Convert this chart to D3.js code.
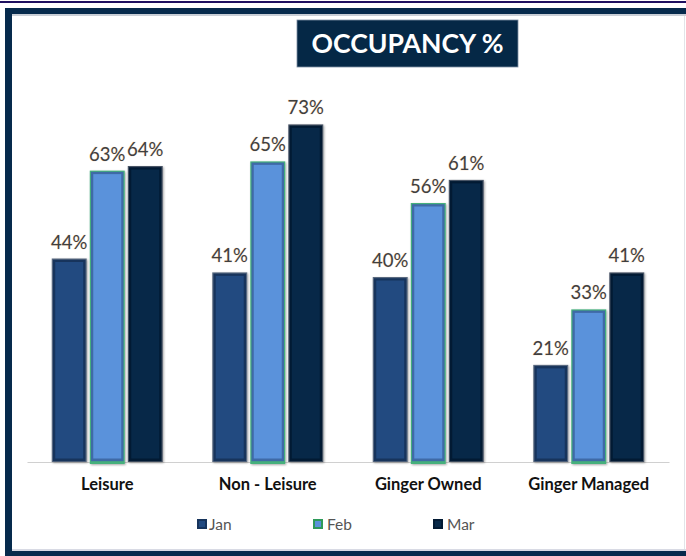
<!DOCTYPE html>
<html>
<head>
<meta charset="utf-8">
<script src="https://cdn.jsdelivr.net/npm/d3@7"></script>
<style>
  html, body { margin: 0; padding: 0; background: #ffffff; }
  svg { display: block; }
</style>
</head>
<body>
<svg id="chart" width="686" height="556"></svg>
<script>
// ---- data ----
const categories = ["Leisure", "Non - Leisure", "Ginger Owned", "Ginger Managed"];
const months = ["Jan", "Feb", "Mar"];
const janValues = [44, 41, 40, 21];
const febValues = [63, 65, 56, 33];
const marValues = [64, 73, 61, 41];
const chartTitle = "OCCUPANCY %";

const seriesValues = { Jan: janValues, Feb: febValues, Mar: marValues };

const W = 686, H = 556;
const svg = d3.select("#chart");

const fills = { Jan: "#224a80", Feb: "#5a92db", Mar: "#072848" };
const edges = { Jan: "#17345c", Feb: "#3f6aa6", Mar: "#021a33" };
const outer = { Jan: "#5a6a80", Feb: "#45b07c", Mar: "#4a5566" };

// defs: shadow
const defs = svg.append("defs");
const f = defs.append("filter").attr("id", "shadow").attr("x", "-20%").attr("y", "-10%").attr("width", "140%").attr("height", "120%");
f.append("feDropShadow").attr("dx", 1).attr("dy", 1).attr("stdDeviation", 1.2).attr("flood-color", "#000").attr("flood-opacity", 0.35);

// ---- frame ----
svg.append("rect").attr("x", 0).attr("y", 0).attr("width", W).attr("height", H).attr("fill", "#ffffff");
svg.append("rect").attr("x", 0).attr("y", 1).attr("width", W).attr("height", 2).attr("fill", "#1e1060");
svg.append("rect").attr("x", 5).attr("y", 8).attr("width", W - 5).attr("height", 6).attr("fill", "#062a4c");
svg.append("rect").attr("x", 5).attr("y", 14).attr("width", W - 5).attr("height", 2).attr("fill", "#c9ced6");
svg.append("rect").attr("x", 5).attr("y", 8).attr("width", 7).attr("height", H - 8).attr("fill", "#062a4c");
svg.append("rect").attr("x", 5).attr("y", 551).attr("width", W - 5).attr("height", 5).attr("fill", "#062a4c");
svg.append("rect").attr("x", 12).attr("y", 549).attr("width", W - 12).attr("height", 2).attr("fill", "#d8dae4");
svg.append("rect").attr("x", 684).attr("y", 16).attr("width", 1).attr("height", 533).attr("fill", "#e2e4e8");

// ---- title ----
svg.append("rect").attr("x", 297).attr("y", 20).attr("width", 221).attr("height", 47)
  .attr("fill", "#052846").attr("stroke", "#7d8ea3").attr("stroke-width", 0.8);
svg.append("text").attr("x", 407.5).attr("y", 53).attr("text-anchor", "middle")
  .attr("font-family", "Lato, 'Open Sans', sans-serif").attr("font-weight", 700)
  .attr("font-size", 26).attr("fill", "#ffffff")
  .attr("textLength", 192).attr("lengthAdjust", "spacingAndGlyphs")
  .text(chartTitle);

// ---- scales ----
const x0 = d3.scaleBand().domain(categories).range([27, 669]).paddingInner(0).paddingOuter(0);
const x1 = d3.scaleBand().domain(months).range([0, 111]).paddingInner(0.08).paddingOuter(0);
const groupOffset = (x0.bandwidth() - 111) / 2;
const y = d3.scaleLinear().domain([0, 80]).range([462, 92]);

// baseline axis
const axis = svg.append("g").attr("transform", `translate(0,${y(0)})`)
  .call(d3.axisBottom(x0).tickSize(0).tickPadding(16));
axis.select(".domain").attr("stroke", "#d0d0d0").attr("stroke-width", 1.2);
axis.selectAll("text")
  .attr("font-family", "Lato, 'Open Sans', sans-serif")
  .attr("font-weight", 700).attr("font-size", 16.5).attr("fill", "#111111");

// ---- bars ----
const groups = svg.append("g").selectAll("g").data(categories).join("g")
  .attr("transform", d => `translate(${x0(d) + groupOffset},0)`);

const barData = (c, i) => months.map(m => ({ m, v: seriesValues[m][i], c }));

groups.each(function(c, i) {
  const g = d3.select(this);
  const bars = barData(c, i);
  const bw = x1.bandwidth();
  g.selectAll("rect.outer").data(bars).join("rect").attr("class", "outer")
    .attr("x", d => x1(d.m)).attr("y", d => y(d.v))
    .attr("width", bw).attr("height", d => y(0) - y(d.v) + (d.m === "Feb" ? 2 : 0))
    .attr("fill", d => outer[d.m]).attr("filter", "url(#shadow)");
  g.selectAll("rect.edge").data(bars).join("rect").attr("class", "edge")
    .attr("x", d => x1(d.m) + 1.2).attr("y", d => y(d.v) + 1.2)
    .attr("width", bw - 2.4)
    .attr("height", d => y(0) - y(d.v) - 2)
    .attr("fill", d => edges[d.m]);
  g.selectAll("rect.face").data(bars).join("rect").attr("class", "face")
    .attr("x", d => x1(d.m) + 3.5).attr("y", d => y(d.v) + 3.5)
    .attr("width", bw - 7)
    .attr("height", d => y(0) - y(d.v) - 7)
    .attr("fill", d => fills[d.m]);
  g.selectAll("text.val").data(bars).join("text").attr("class", "val")
    .attr("x", d => x1(d.m) + bw / 2).attr("y", d => y(d.v) - 10)
    .attr("text-anchor", "middle")
    .attr("font-family", "Lato, 'Open Sans', sans-serif").attr("font-size", 18.5)
    .attr("fill", "#3f3f3f")
    .attr("stroke", "#f3d9c0").attr("stroke-width", 0.6).attr("paint-order", "stroke")
    .text(d => d.v + "%");
});

// ---- legend ----
const legendX = { Jan: 197, Feb: 313, Mar: 433 };
const legend = svg.append("g").selectAll("g").data(months).join("g")
  .attr("transform", d => `translate(${legendX[d]},519)`);
legend.append("rect").attr("width", 10).attr("height", 10)
  .attr("fill", d => d === "Feb" ? "#2e9a5a" : edges[d]);
legend.append("rect").attr("x", 2).attr("y", 2).attr("width", 6).attr("height", 6)
  .attr("fill", d => fills[d]);
legend.append("text").attr("x", d => d === "Jan" ? 12 : 14).attr("y", 10.5)
  .attr("font-family", "Lato, 'Open Sans', sans-serif").attr("font-size", 15.5)
  .attr("fill", "#555555").text(d => d);
</script>
</body>
</html>
